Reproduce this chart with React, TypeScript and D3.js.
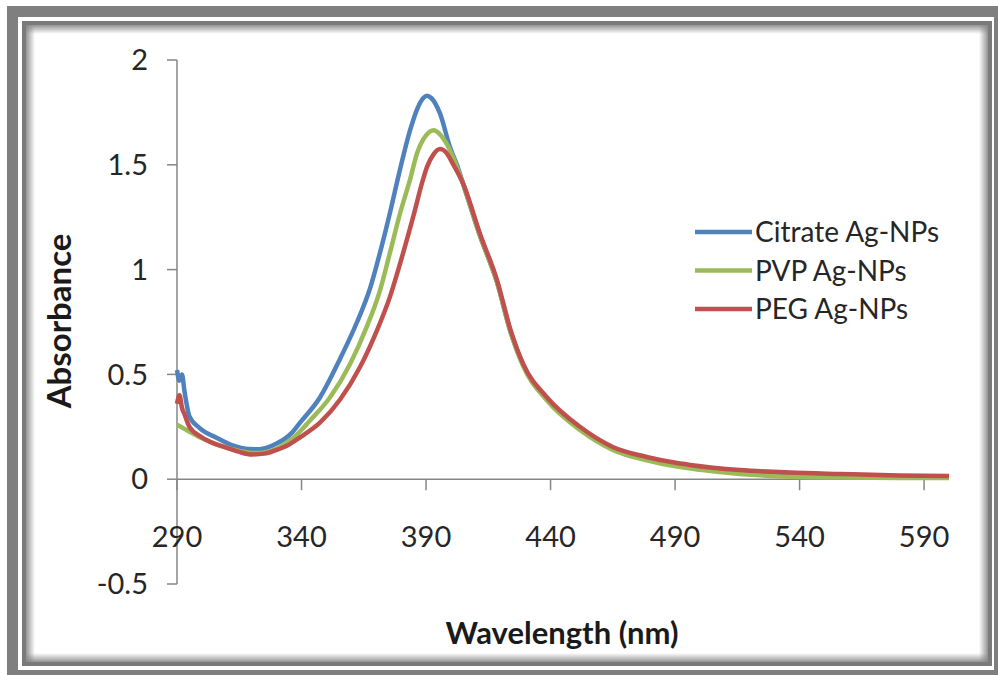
import React from 'react';
import * as d3 from 'd3';

// wavelength (nm), absorbance
const citrate: [number, number][] = [
  [290, 0.52], [291, 0.47], [292, 0.5], [293, 0.42], [295, 0.3], [299, 0.245],
  [306, 0.197], [312, 0.163], [319, 0.144], [323, 0.143], [330, 0.17], [336, 0.22],
  [339.4, 0.27], [347.4, 0.39], [355.5, 0.575], [362.3, 0.75], [367.5, 0.91],
  [371.5, 1.08], [375.5, 1.27], [379.6, 1.48], [383.6, 1.665],
  [386.4, 1.765], [389, 1.82], [390.4, 1.83], [392, 1.82], [395.6, 1.745],
  [399.6, 1.585], [402.4, 1.5], [405, 1.405], [411.7, 1.16], [418.5, 0.94],
  [424, 0.7], [429, 0.545], [438.6, 0.38], [451.8, 0.24], [465, 0.145],
  [478.6, 0.095], [490.8, 0.067], [500, 0.05], [516, 0.03], [536, 0.018],
  [556, 0.012], [580, 0.01], [600, 0.01],
];

const pvp: [number, number][] = [
  [290, 0.26], [293, 0.24], [296, 0.22], [300, 0.195], [305, 0.17], [310, 0.15],
  [315, 0.135], [320, 0.125], [325, 0.128], [330, 0.145], [336, 0.19],
  [343.4, 0.28], [351.4, 0.39], [359.5, 0.55], [366.3, 0.73], [371.5, 0.9],
  [375.5, 1.08], [379.6, 1.27], [383.6, 1.43], [386.4, 1.555], [390, 1.64],
  [393, 1.665], [396, 1.64], [400, 1.56], [403, 1.47], [405, 1.405],
  [411.7, 1.16], [418.5, 0.94], [424, 0.7], [429, 0.54], [438.6, 0.375],
  [451.8, 0.235], [465, 0.14], [478.6, 0.09], [490.8, 0.06], [500, 0.045],
  [516, 0.025], [536, 0.012], [556, 0.008], [580, 0.006], [600, 0.006],
];

const peg: [number, number][] = [
  [290, 0.36], [291, 0.4], [292, 0.34], [293, 0.31], [295, 0.25], [300, 0.2],
  [305, 0.17], [310, 0.15], [315, 0.13], [320, 0.118], [325, 0.122], [330, 0.14],
  [335, 0.165], [339.4, 0.2], [347.4, 0.27], [355.5, 0.38], [363.5, 0.535],
  [370.3, 0.71], [375.5, 0.87], [379.6, 1.03], [384.8, 1.25], [388.8, 1.43],
  [390.4, 1.49], [393, 1.55], [395.6, 1.575], [398, 1.56], [401, 1.5],
  [404.9, 1.41], [411.7, 1.17], [418.5, 0.95], [424, 0.71], [429, 0.55],
  [438.6, 0.39], [451.8, 0.25], [465, 0.154], [478.6, 0.106], [490.8, 0.077],
  [496, 0.068], [516, 0.044], [536, 0.032], [556, 0.025], [580, 0.018], [600, 0.015],
];

const seriesNames = ['Citrate Ag-NPs', 'PVP Ag-NPs', 'PEG Ag-NPs'];
const seriesColors = ['#4F81BD', '#9BBB59', '#C0504D'];
const xTicks = [290, 340, 390, 440, 490, 540, 590];
const yTicks = [-0.5, 0, 0.5, 1, 1.5, 2];

const W = 998;
const H = 675;
const font = 'Lato, "Open Sans", sans-serif';

export default function App() {
  const x = d3.scaleLinear().domain([290, 600]).range([177, 949]);
  const y = d3.scaleLinear().domain([-0.5, 2]).range([584, 60]);
  const line = d3
    .line<[number, number]>()
    .x((d) => x(d[0]))
    .y((d) => y(d[1]))
    .curve(d3.curveMonotoneX);
  const data = [citrate, pvp, peg];
  const axisColor = '#868686';

  return (
    <svg
      width={W}
      height={H}
      style={{ position: 'absolute', left: 0, top: 0, background: '#fff' }}
    >
      <defs>
        <linearGradient id="shT" x1="0" y1="0" x2="0" y2="1">
          <stop offset="0" stopColor="#888" stopOpacity="0.9" />
          <stop offset="1" stopColor="#888" stopOpacity="0" />
        </linearGradient>
        <linearGradient id="shL" x1="0" y1="0" x2="1" y2="0">
          <stop offset="0" stopColor="#888" stopOpacity="0.9" />
          <stop offset="1" stopColor="#888" stopOpacity="0" />
        </linearGradient>
        <linearGradient id="shB" x1="0" y1="1" x2="0" y2="0">
          <stop offset="0" stopColor="#888" stopOpacity="0.9" />
          <stop offset="1" stopColor="#888" stopOpacity="0" />
        </linearGradient>
        <linearGradient id="shR" x1="1" y1="0" x2="0" y2="0">
          <stop offset="0" stopColor="#888" stopOpacity="0.9" />
          <stop offset="1" stopColor="#888" stopOpacity="0" />
        </linearGradient>
      </defs>

      {/* frame */}
      <rect x={7} y={6} width={W - 7} height={H - 6} fill="#7f7f7f" />
      <rect x={18} y={17} width={W - 18 - 4} height={H - 17 - 5} fill="#fff" />
      <rect x={22} y={21} width={970} height={645} fill="#7a7a7a" />
      <rect x={26} y={25} width={962} height={637} fill="#fff" />
      <rect x={26} y={25} width={962} height={9} fill="url(#shT)" />
      <rect x={26} y={25} width={9} height={637} fill="url(#shL)" />
      <rect x={26} y={653} width={962} height={9} fill="url(#shB)" />
      <rect x={979} y={25} width={9} height={637} fill="url(#shR)" />

      {/* axes */}
      <g stroke={axisColor} strokeWidth={1.5} fill="none">
        <line x1={x(290)} x2={x(290)} y1={y(2)} y2={y(-0.5)} />
        <line x1={x(290)} x2={x(600)} y1={y(0)} y2={y(0)} />
        {yTicks.map((t) => (
          <line key={'yt' + t} x1={x(290) - 10} x2={x(290)} y1={y(t)} y2={y(t)} />
        ))}
        {xTicks.map((t) => (
          <line key={'xt' + t} x1={x(t)} x2={x(t)} y1={y(0)} y2={y(0) + 11} />
        ))}
      </g>

      {/* series */}
      {data.map((d, i) => (
        <path
          key={seriesNames[i]}
          d={line(d) || ''}
          fill="none"
          stroke={seriesColors[i]}
          strokeWidth={4.5}
          strokeLinejoin="round"
        />
      ))}

      {/* tick labels */}
      <g fontFamily={font} fontSize={29} fill="#262626">
        {yTicks.map((t) => (
          <text key={'yl' + t} x={148} y={y(t)} dy="0.35em" textAnchor="end">
            {String(t)}
          </text>
        ))}
        {xTicks.map((t) => (
          <text key={'xl' + t} x={x(t)} y={547} textAnchor="middle">
            {t}
          </text>
        ))}
      </g>

      {/* axis titles */}
      <text
        transform={`translate(71,321) rotate(-90)`}
        textAnchor="middle"
        fontFamily={font}
        fontSize={33}
        fontWeight="bold"
        fill="#1a1a1a"
      >
        Absorbance
      </text>
      <text
        x={562}
        y={644}
        textAnchor="middle"
        fontFamily={font}
        fontSize={31}
        fontWeight="bold"
        fill="#1a1a1a"
      >
        Wavelength (nm)
      </text>

      {/* legend */}
      {seriesNames.map((n, i) => {
        const ly = 232 + i * 38.5;
        return (
          <g key={'lg' + n}>
            <line x1={695} x2={752} y1={ly} y2={ly} stroke={seriesColors[i]} strokeWidth={4.5} />
            <text x={755} y={ly} dy="0.36em" fontFamily={font} fontSize={28} fill="#262626">
              {n}
            </text>
          </g>
        );
      })}
    </svg>
  );
}
